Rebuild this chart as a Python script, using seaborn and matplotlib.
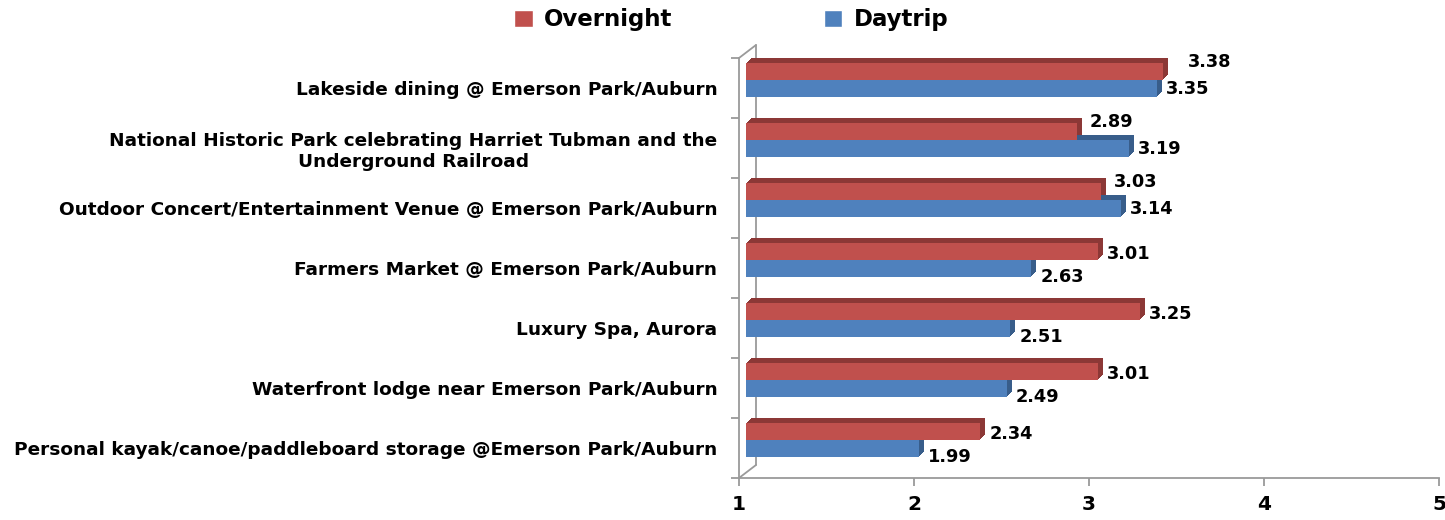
import numpy as np
import pandas as pd
import seaborn as sns
from matplotlib import pyplot as plt
from matplotlib import transforms as mtrans
from matplotlib.patches import Rectangle, Patch, ConnectionPatch

# categories and scores
categories = [
    "Lakeside dining @ Emerson Park/Auburn",
    "National Historic Park celebrating Harriet Tubman and the\nUnderground Railroad",
    "Outdoor Concert/Entertainment Venue @ Emerson Park/Auburn",
    "Farmers Market @ Emerson Park/Auburn",
    "Luxury Spa, Aurora",
    "Waterfront lodge near Emerson Park/Auburn",
    "Personal kayak/canoe/paddleboard storage @Emerson Park/Auburn",
]
overnight = [3.38, 2.89, 3.03, 3.01, 3.25, 3.01, 2.34]
daytrip = [3.35, 3.19, 3.14, 2.63, 2.51, 2.49, 1.99]
series = ["Overnight", "Daytrip"]
x_ticks = [1, 2, 3, 4, 5]

red = "#C0504D"
blue = "#4F81BD"
dark = {"r": "#8C3836", "b": "#385D8A"}
gray = "#9A9A9A"

df = pd.DataFrame({
    "item": categories * 2,
    "score": overnight + daytrip,
    "group": [series[0]] * len(categories) + [series[1]] * len(categories),
})

sns.set_style("white")
plt.rcParams['font.family'] = ['DejaVu Sans']
plt.rcParams['text.color'] = 'black'
plt.rcParams['xtick.color'] = 'black'
plt.rcParams['ytick.color'] = 'black'

fig = plt.figure(figsize=(14.45, 5.2), dpi=100)
ax = fig.add_axes([739 / 1445, 42 / 520, 700 / 1445, 420 / 520])

sns.barplot(data=df, y="item", x="score", hue="group", orient="h",
            palette=[red, blue], width=0.57, ax=ax, legend=False,
            saturation=1, linewidth=0)

ax.set_xlim(1, 5)
ax.set_ylim(6.5, -0.5)


def px_shift(dx, dy):
    return ax.transData + mtrans.ScaledTranslation(dx / 100, dy / 100, fig.dpi_scale_trans)


# 3d look: bars sit a little behind the front plane, with a dark extrusion
depth = 5
bars = [p for p in ax.patches if p.get_width() > 0]
for p in bars:
    end = p.get_x() + p.get_width()
    p.set_width(end - 1)
    p.set_x(1)
    p.set_transform(px_shift(7, 8))
    p.set_clip_on(False)
    p.set_zorder(3)
    key = "r" if p.get_facecolor()[0] > 0.6 else "b"
    for k in range(1, depth + 1):
        ax.add_patch(Rectangle((1, p.get_y()), end - 1, p.get_height(),
                               transform=px_shift(7 + k, 8 + k), facecolor=dark[key],
                               edgecolor="none", clip_on=False, zorder=2))

# value labels
for i in range(len(categories)):
    r, b = overnight[i], daytrip[i]
    rdx, rdy = 9, -3
    if b >= r - 0.05:
        rdx, rdy = 13, 9
        if abs(b - r) < 0.1:
            rdx = 25
    bdy = 0 if b >= r - 0.05 else -8
    ax.annotate(f"{r:.2f}", (r, i - 0.1425), xytext=(7 + rdx, 8 + rdy),
                textcoords="offset pixels", va="center", ha="left",
                fontsize=12.8, fontweight="bold", annotation_clip=False, zorder=5)
    ax.annotate(f"{b:.2f}", (b, i + 0.1425), xytext=(7 + 9, 8 + bdy),
                textcoords="offset pixels", va="center", ha="left",
                fontsize=12.8, fontweight="bold", annotation_clip=False, zorder=5)

# gray floor and walls
for s in ["top", "right"]:
    ax.spines[s].set_visible(False)
for s in ["left", "bottom"]:
    ax.spines[s].set_color(gray)
    ax.spines[s].set_linewidth(1.3)

ax.plot([1, 1], [6.5, -0.5], color=gray, lw=1.3, transform=px_shift(17, 13),
        clip_on=False, zorder=1)
for yy in [-0.5, 6.5]:
    con = ConnectionPatch(xyA=(1, yy), coordsA=ax.transData,
                          xyB=(1, yy), coordsB=px_shift(17, 13),
                          color=gray, lw=1.3, zorder=1)
    fig.add_artist(con)

ax.set_xticks(x_ticks)
ax.set_xticklabels([str(t) for t in x_ticks], fontsize=14.5, fontweight="bold")
ax.tick_params(axis="x", length=6, color=gray, labelcolor="black", width=1.3, pad=6,
               direction="out")
ax.xaxis.set_ticks_position("bottom")

ax.set_yticks(np.arange(len(categories)))
ax.set_yticklabels(categories, fontsize=13.3, fontweight="bold", multialignment="center")
ax.set_yticks(np.arange(-0.5, len(categories), 1), minor=True)
ax.tick_params(axis="y", which="major", length=0, pad=15.5, labelcolor="black")
ax.tick_params(axis="y", which="minor", length=6, color=gray, width=1.3, direction="out")
ax.yaxis.set_ticks_position("left")

ax.set_xlabel("")
ax.set_ylabel("")
ax.grid(False)

handles = [Patch(facecolor=red, label=series[0]), Patch(facecolor=blue, label=series[1])]
fig.legend(handles=handles, loc="center", bbox_to_anchor=(0.506, 0.962), ncol=2,
           frameon=False, prop={"size": 16.5, "weight": "bold"}, columnspacing=6.6,
           handlelength=0.8, handleheight=0.8, handletextpad=0.5)

fig.savefig("out.png", dpi=100)
